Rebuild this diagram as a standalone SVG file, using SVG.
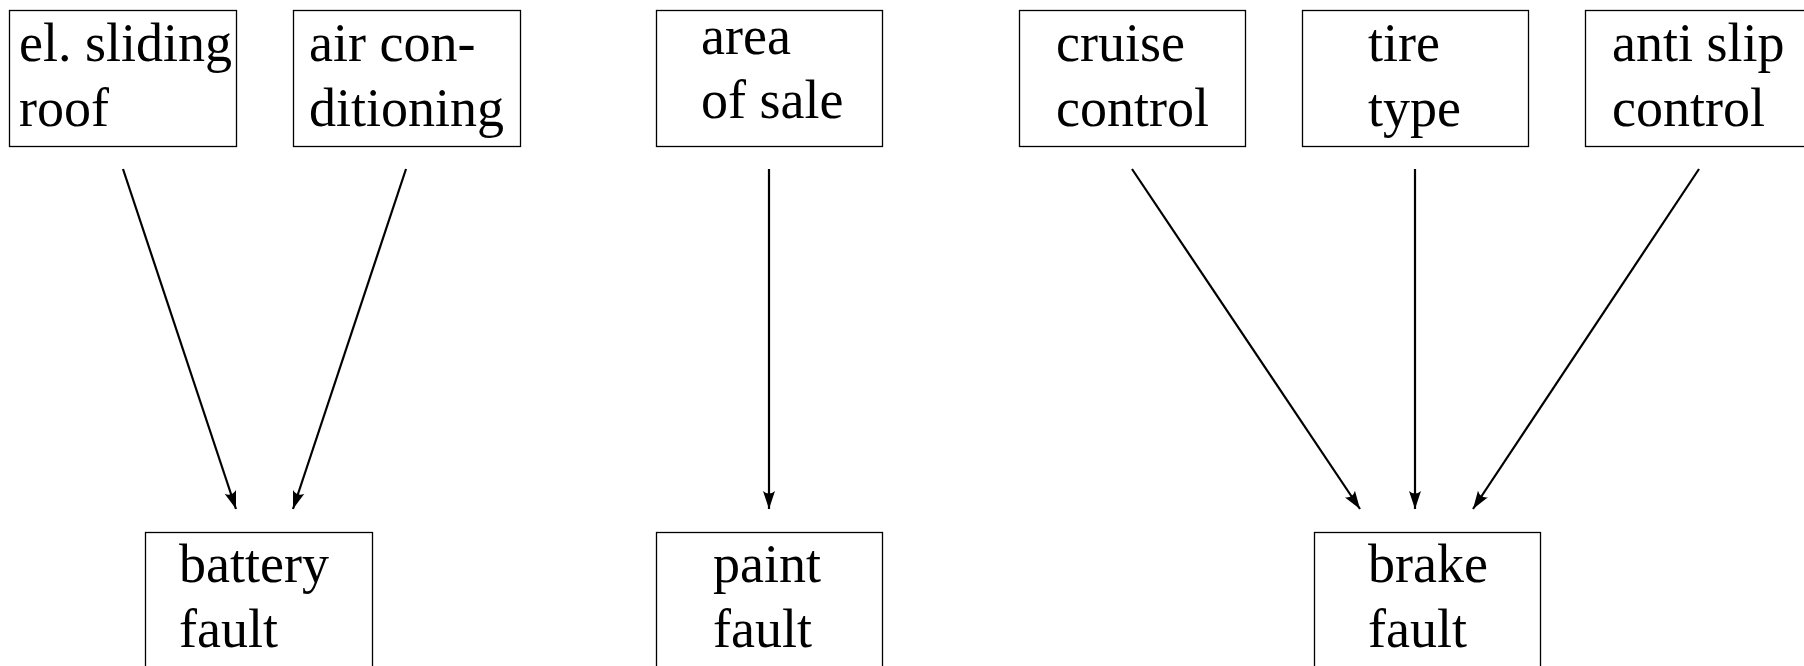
<svg xmlns="http://www.w3.org/2000/svg" width="1804" height="666" viewBox="0 0 1804 666">
<style>
.box{fill:#fff;stroke:#000;stroke-width:1.3}
.t{font-family:"Liberation Serif","DejaVu Serif",serif;font-size:54px;fill:#000}
.c{stroke:#000;stroke-width:2.2;fill:none;marker-end:url(#ah)}
</style>
<defs>
<marker id="ah" markerUnits="userSpaceOnUse" markerWidth="22" markerHeight="14" viewBox="-18 -7 19 14" refX="0" refY="0" orient="auto">
<path d="M0,0 L-18,-6 Q-13,0 -18,6 Z" fill="#000"/>
</marker>
</defs>
<rect width="1804" height="666" fill="#fff"/>
<g id="connectors">
<line class="c" x1="123" y1="169" x2="236" y2="509"/>
<line class="c" x1="406" y1="169" x2="293" y2="509"/>
<line class="c" x1="769" y1="169" x2="769" y2="509"/>
<line class="c" x1="1132" y1="169" x2="1360" y2="509"/>
<line class="c" x1="1415" y1="169" x2="1415" y2="509"/>
<line class="c" x1="1699" y1="169" x2="1473" y2="509"/>
</g>
<g id="el_sliding_roof">
<rect class="box" x="9.5" y="10.5" width="227" height="136"/>
<text class="t" x="19" y="61">el. sliding</text>
<text class="t" x="19" y="126">roof</text>
</g>
<g id="air_conditioning">
<rect class="box" x="293.5" y="10.5" width="227" height="136"/>
<text class="t" x="309" y="61">air con-</text>
<text class="t" x="309" y="126">ditioning</text>
</g>
<g id="area_of_sale">
<rect class="box" x="656.5" y="10.5" width="226" height="136"/>
<text class="t" x="701" y="54">area</text>
<text class="t" x="701" y="118">of sale</text>
</g>
<g id="cruise_control">
<rect class="box" x="1019.5" y="10.5" width="226" height="136"/>
<text class="t" x="1056" y="61">cruise</text>
<text class="t" x="1056" y="126">control</text>
</g>
<g id="tire_type">
<rect class="box" x="1302.5" y="10.5" width="226" height="136"/>
<text class="t" x="1368" y="61">tire</text>
<text class="t" x="1368" y="126">type</text>
</g>
<g id="anti_slip_control">
<rect class="box" x="1585.5" y="10.5" width="227" height="136"/>
<text class="t" x="1612" y="61">anti slip</text>
<text class="t" x="1612" y="126">control</text>
</g>
<g id="battery_fault">
<rect class="box" x="145.5" y="532.5" width="227" height="140"/>
<text class="t" x="179" y="582">battery</text>
<text class="t" x="179" y="647">fault</text>
</g>
<g id="paint_fault">
<rect class="box" x="656.5" y="532.5" width="226" height="140"/>
<text class="t" x="713" y="582">paint</text>
<text class="t" x="713" y="647">fault</text>
</g>
<g id="brake_fault">
<rect class="box" x="1314.5" y="532.5" width="226" height="140"/>
<text class="t" x="1368" y="582">brake</text>
<text class="t" x="1368" y="647">fault</text>
</g>
</svg>
